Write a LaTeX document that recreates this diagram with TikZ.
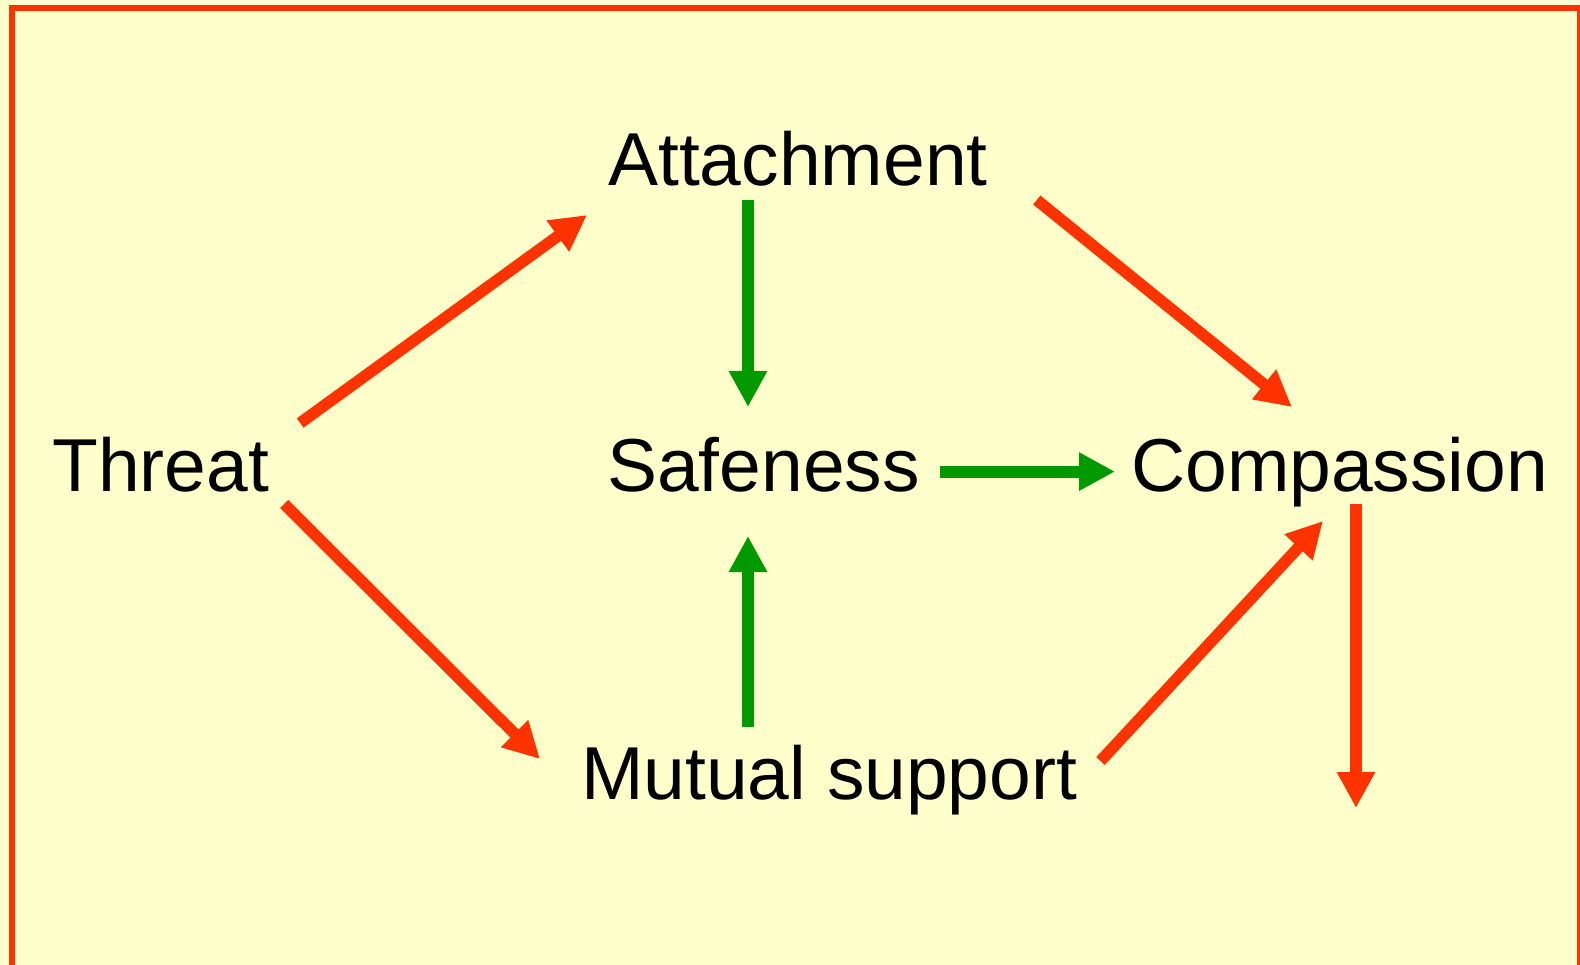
\documentclass[tikz,border=0pt]{standalone}
\usepackage{fontspec}
\setmainfont{Liberation Sans}
\usetikzlibrary{arrows.meta,calc}
\definecolor{paper}{HTML}{FFFFCC}
\definecolor{flame}{HTML}{FF3300}
\definecolor{leaf}{HTML}{009900}
\tikzset{
  label text/.style={anchor=base west,inner sep=0pt,font=\fontsize{75}{90}\selectfont,text=black},
  redarrow/.style={draw=flame,line width=11.5pt,-{Triangle[length=36pt,width=36pt]}},
  greenarrow/.style={draw=leaf,line width=12pt,-{Triangle[length=36pt,width=36pt]}},
}
\begin{document}
\begin{tikzpicture}[x=1pt,y=-1pt]
  \useasboundingbox (0,0) rectangle (1580,965);
  \clip (0,0) rectangle (1580,965);
  \fill[paper] (0,0) rectangle (1580,965);
  \draw[flame,line width=6pt] (12,980) -- (12,8) -- (1580,8) -- (1580,980);

  % concepts
  \node[label text] (thr) at (52,491)  {Threat};
  \node[label text] (att) at (608,186) {Attachment};
  \node[label text] (saf) at (607,491) {Safeness};
  \node[label text] (com) at (1131,491) {Compassion};
  \node[label text] (mut) at (581,799) {Mutual support};
  \coordinate (out) at ($(com.base west)+(225,317)$);

  % threat pathways
  \draw[redarrow] ($(thr.base east)+(31,-68)$) -- ($(att.base west)+(-21,29)$);
  \draw[redarrow] ($(thr.base east)+(15,13)$) -- ($(mut.base west)+(-41,-40)$);

  % routes to safeness
  \draw[greenarrow] ($(att.base west)+(140,14)$) -- ($(saf.base west)+(141,-84)$);
  \draw[greenarrow] ($(mut.base west)+(167,-72)$) -- ($(saf.base west)+(141,45)$);
  \draw[greenarrow] ($(saf.base east)+(20,-19.4)$) -- ($(com.base west)+(-16,-19.4)$);

  % routes to compassion
  \draw[redarrow] ($(att.base east)+(49,14)$) -- ($(com.base west)+(161,-84)$);
  \draw[redarrow] ($(mut.base east)+(23,-38)$) -- ($(com.base west)+(192,30)$);
  \draw[redarrow] ($(com.base west)+(225,13)$) -- (out);
\end{tikzpicture}
\end{document}
